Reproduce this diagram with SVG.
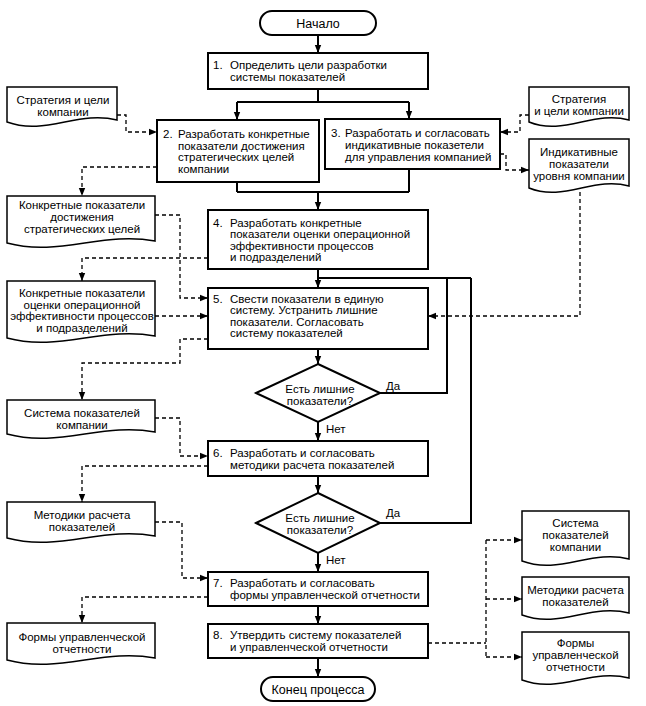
<svg xmlns="http://www.w3.org/2000/svg" width="646" height="706" viewBox="0 0 646 706">
<style>
text{font-family:"Liberation Sans",Arial,sans-serif;font-size:11.5px;fill:#000}
.c{text-anchor:middle}
.t{font-size:12.5px}
.box{fill:#fff;stroke:#000;stroke-width:2}
.doc{fill:#fff;stroke:#000;stroke-width:1.5}
.sol{fill:none;stroke:#000;stroke-width:2}
.sa{fill:none;stroke:#000;stroke-width:2;marker-end:url(#ah)}
.da{fill:none;stroke:#000;stroke-width:1.3;stroke-dasharray:4 3;marker-end:url(#ah)}
.dn{fill:none;stroke:#000;stroke-width:1.3;stroke-dasharray:4 3}
</style>
<defs>
<marker id="ah" viewBox="0 0 10 10" refX="10" refY="5" markerWidth="8" markerHeight="8" markerUnits="userSpaceOnUse" orient="auto"><path d="M0,1 L10,5 L0,9 z" fill="#000"/></marker>
</defs>
<rect width="646" height="706" fill="#fff"/>

<g id="connectors">
<path class="sa" d="M318,35 V53"/>
<path class="sol" d="M318,89 V102 M237,102 H409"/>
<path class="sa" d="M237,102 V120"/>
<path class="sa" d="M409,102 V119"/>
<path class="sol" d="M237,182 V192 M409,169 V192 M237,192 H409"/>
<path class="sa" d="M318,192 V210"/>
<path class="sa" d="M318,269 V288"/>
<path class="sol" d="M318,278 H471"/>
<path class="sol" d="M379,393 H447 V278"/>
<path class="sol" d="M380,523 H471 V278"/>
<path class="sa" d="M318,349 V364"/>
<path class="sa" d="M318,422 V441"/>
<path class="sa" d="M318,476 V493"/>
<path class="sa" d="M318,553 V572"/>
<path class="sa" d="M318,606 V624"/>
<path class="sa" d="M318,658 V677"/>

<path class="da" d="M117,115 H126 V132 H157"/>
<path class="da" d="M157,167 H82 V196"/>
<path class="da" d="M155,215 H180 V298 H208"/>
<path class="da" d="M208,258 H82 V281"/>
<path class="da" d="M155,316 H208"/>
<path class="da" d="M208,339 H180 V363 H82 V400"/>
<path class="da" d="M155,418 H180 V456 H208"/>
<path class="da" d="M208,466 H82 V502"/>
<path class="da" d="M155,522 H182 V578 H208"/>
<path class="da" d="M208,597 H82 V623"/>
<path class="da" d="M529,115 H520 V132 H500"/>
<path class="da" d="M500,154 H506 V170 H529"/>
<path class="da" d="M580,192 V316 H428"/>
<path class="dn" d="M428,643 H486 M486,540 V657"/>
<path class="da" d="M486,540 H522"/>
<path class="da" d="M486,599 H522"/>
<path class="da" d="M486,657 H522"/>

<text x="386" y="390">Да</text>
<text x="326" y="433">Нет</text>
<text x="386" y="517">Да</text>
<text x="326" y="564">Нет</text>
</g>

<g id="start">
<rect x="260" y="11" width="116" height="24" rx="12" ry="12" class="box"/>
<text x="318" y="27.5" class="c t">Начало</text>
</g>

<g id="step1">
<rect x="208" y="53" width="220" height="36" class="box"/>
<text x="213" y="69">1.</text>
<text x="230" y="69">Определить цели разработки</text>
<text x="230" y="81">системы показателей</text>
</g>

<g id="step2">
<rect x="157" y="120" width="162" height="62" class="box"/>
<text x="163" y="138">2.</text>
<text x="178" y="138">Разработать конкретные</text>
<text x="178" y="149.5">показатели достижения</text>
<text x="178" y="161">стратегических целей</text>
<text x="178" y="172.5">компании</text>
</g>

<g id="step3">
<rect x="325" y="119" width="175" height="50" class="box"/>
<text x="331" y="137">3.</text>
<text x="345" y="137">Разработать и согласовать</text>
<text x="345" y="149">индикативные показетели</text>
<text x="345" y="161">для управления компанией</text>
</g>

<g id="step4">
<rect x="208" y="210" width="220" height="59" class="box"/>
<text x="213" y="226.5">4.</text>
<text x="230" y="226.5">Разработать конкретные</text>
<text x="230" y="238">показатели оценки операционной</text>
<text x="230" y="249.5">эффективности процессов</text>
<text x="230" y="261">и подразделений</text>
</g>

<g id="step5">
<rect x="208" y="288" width="220" height="61" class="box"/>
<text x="213" y="302.5">5.</text>
<text x="230" y="302.5">Свести показатели в единую</text>
<text x="230" y="314">систему. Устранить лишние</text>
<text x="230" y="325.5">показатели. Согласовать</text>
<text x="230" y="337">систему показателей</text>
</g>

<g id="decision1">
<path d="M318,364 L380,393 L318,422 L256,393 Z" class="box"/>
<text x="320" y="393" class="c">Есть лишние</text>
<text x="320" y="405" class="c">показатели?</text>
</g>

<g id="step6">
<rect x="208" y="441" width="220" height="35" class="box"/>
<text x="213" y="456.5">6.</text>
<text x="230" y="456.5">Разработать и согласовать</text>
<text x="230" y="468.5">методики расчета показателей</text>
</g>

<g id="decision2">
<path d="M318,493 L380,523 L318,553 L256,523 Z" class="box"/>
<text x="320" y="522" class="c">Есть лишние</text>
<text x="320" y="534" class="c">показатели?</text>
</g>

<g id="step7">
<rect x="208" y="572" width="220" height="34" class="box"/>
<text x="213" y="586.5">7.</text>
<text x="230" y="586.5">Разработать и согласовать</text>
<text x="230" y="598.5">формы управленческой отчетности</text>
</g>

<g id="step8">
<rect x="208" y="624" width="220" height="34" class="box"/>
<text x="213" y="638.5">8.</text>
<text x="230" y="638.5">Утвердить систему показателей</text>
<text x="230" y="650.5">и управленческой отчетности</text>
</g>

<g id="end">
<rect x="261" y="677" width="114" height="24" rx="12" ry="12" class="box"/>
<text x="318" y="693.5" class="c t">Конец процесса</text>
</g>

<g id="doc-strategy-left">
<path class="doc" d="M7,87 H117 V120 C78.5,110 45.5,136 7,122 Z"/>
<text x="63" y="104" class="c">Стратегия и цели</text>
<text x="63" y="116" class="c">компании</text>
</g>

<g id="doc-strategic-kpi">
<path class="doc" d="M7,196 H155 V241 C103,231 59,257 7,243 Z"/>
<text x="82" y="209" class="c">Конкретные показатели</text>
<text x="82" y="221" class="c">достижения</text>
<text x="82" y="232.5" class="c">стратегических целей</text>
</g>

<g id="doc-operational-kpi">
<path class="doc" d="M7,281 H155 V336 C103,326 59,352 7,338 Z"/>
<text x="82" y="297" class="c">Конкретные показатели</text>
<text x="82" y="308.5" class="c">оценки операционной</text>
<text x="82" y="320" class="c">эффективности процессов</text>
<text x="82" y="331.5" class="c">и подразделений</text>
</g>

<g id="doc-system-left">
<path class="doc" d="M7,400 H155 V432 C103,422 59,448 7,434 Z"/>
<text x="82" y="417" class="c">Система показателей</text>
<text x="82" y="428.5" class="c">компании</text>
</g>

<g id="doc-methods-left">
<path class="doc" d="M7,502 H155 V536 C103,526 59,552 7,538 Z"/>
<text x="82" y="519" class="c">Методики расчета</text>
<text x="82" y="531" class="c">показателей</text>
</g>

<g id="doc-forms-left">
<path class="doc" d="M7,623 H155 V658 C103,648 59,674 7,660 Z"/>
<text x="82" y="641" class="c">Формы управленческой</text>
<text x="82" y="652.5" class="c">отчетности</text>
</g>

<g id="doc-strategy-right">
<path class="doc" d="M529,87 H629 V120 C594,110 564,136 529,122 Z"/>
<text x="579" y="103" class="c">Стратегия</text>
<text x="579" y="115" class="c">и цели компании</text>
</g>

<g id="doc-indicative">
<path class="doc" d="M529,139 H629 V186 C594,176 564,202 529,188 Z"/>
<text x="579" y="156" class="c">Индикативные</text>
<text x="579" y="168" class="c">показатели</text>
<text x="579" y="180" class="c">уровня компании</text>
</g>

<g id="doc-system-right">
<path class="doc" d="M522,511 H629 V559 C591.5,549 559.5,575 522,561 Z"/>
<text x="575.5" y="527" class="c">Система</text>
<text x="575.5" y="539" class="c">показателей</text>
<text x="575.5" y="551" class="c">компании</text>
</g>

<g id="doc-methods-right">
<path class="doc" d="M522,577 H629 V613 C591.5,603 559.5,629 522,615 Z"/>
<text x="575.5" y="594" class="c">Методики расчета</text>
<text x="575.5" y="606" class="c">показателей</text>
</g>

<g id="doc-forms-right">
<path class="doc" d="M522,632 H629 V678 C591.5,668 559.5,694 522,680 Z"/>
<text x="575.5" y="647" class="c">Формы</text>
<text x="575.5" y="659" class="c">управленческой</text>
<text x="575.5" y="671" class="c">отчетности</text>
</g>
</svg>
